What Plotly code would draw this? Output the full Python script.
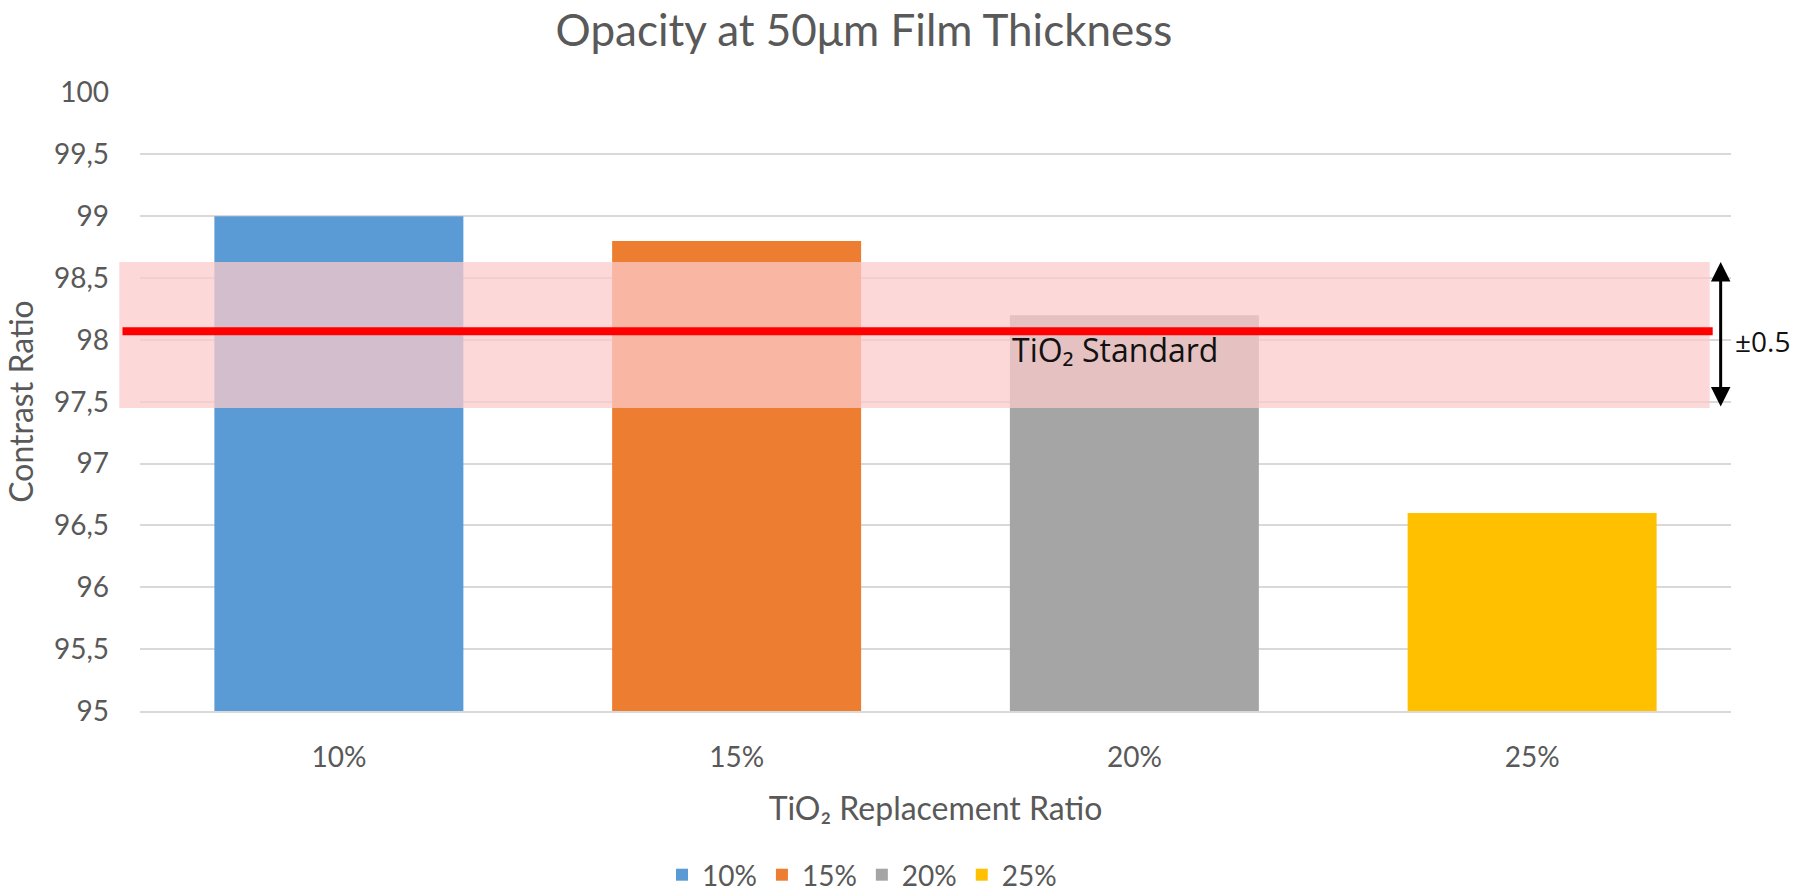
import plotly.graph_objects as go

# data
categories = ["10%", "15%", "20%", "25%"]
contrast_ratio = [99.0, 98.8, 98.2, 96.6]
bar_colors = ["#5B9BD5", "#ED7D31", "#A5A5A5", "#FFC000"]

standard_value = 98.07
band_low = 97.45
band_high = 98.63
band_label = "±0.5"

W, H = 1798, 894
GREY = "#595959"
FONT = "Lato"

fig = go.Figure()
for cat, val, col in zip(categories, contrast_ratio, bar_colors):
    fig.add_trace(go.Bar(
        x=[cat], y=[val], name=cat,
        marker={"color": col, "line": {"width": 0}},
    ))

# tolerance band and standard line, drawn over the bars
fig.add_shape(
    type="rect", xref="paper", yref="y",
    x0=-0.013, x1=0.9866, y0=band_low, y1=band_high,
    fillcolor="rgba(252,202,202,0.74)", line={"width": 0}, layer="above",
)
fig.add_shape(
    type="line", xref="paper", yref="y",
    x0=-0.011, x1=0.9885, y0=standard_value, y1=standard_value,
    line={"color": "#FF0000", "width": 8}, layer="above",
)
fig.add_annotation(
    xref="paper", yref="y", x=0.5468, y=standard_value - 0.15,
    text="TiO₂ Standard", showarrow=False, xanchor="left", yanchor="middle",
    font={"family": "Open Sans", "size": 32, "color": "#111111"},
)
fig.add_annotation(
    xref="paper", yref="y", x=0.9935, y=band_high,
    ax=0, ayref="y", ay=band_low, axref="pixel",
    showarrow=True, arrowhead=2, startarrowhead=2, arrowside="end+start",
    arrowsize=1.3, startarrowsize=1.3, arrowwidth=3, arrowcolor="#000000",
    text="",
)
fig.add_annotation(
    xref="paper", yref="y", x=1.0014, y=(band_low + band_high) / 2 - 0.05,
    text=band_label, showarrow=False, xanchor="left", yanchor="middle",
    font={"family": "Open Sans", "size": 28, "color": "#111111"},
)

fig.update_layout(
    width=W, height=H,
    paper_bgcolor="white", plot_bgcolor="white",
    margin={"l": 140, "r": 67, "t": 92, "b": 183, "autoexpand": False},
    barmode="overlay", bargap=0.374,
    separators=", ",
    font={"family": FONT, "color": GREY, "size": 28},
    title={
        "text": "Opacity at 50μm Film Thickness",
        "x": 864 / W, "xanchor": "center",
        "y": 1 - 31 / H, "yanchor": "middle", "yref": "container",
        "font": {"family": FONT, "size": 44, "color": GREY},
    },
    legend={
        "orientation": "h", "x": 862 / W, "xanchor": "center", "xref": "container",
        "y": 1 - 850 / H, "yanchor": "top", "yref": "container",
        "font": {"family": FONT, "size": 28, "color": GREY},
        "traceorder": "normal",
    },
    showlegend=True,
)
fig.update_xaxes(
    type="category", categoryorder="array", categoryarray=categories,
    showgrid=False, showline=True, linecolor="#D9D9D9", linewidth=2,
    ticks="", ticklabelstandoff=20,
    tickfont={"size": 28, "color": GREY},
    title={"text": "TiO₂ Replacement Ratio", "standoff": 26,
           "font": {"size": 32, "color": GREY}},
)
fig.update_yaxes(
    range=[95, 100.004], dtick=0.5, tick0=95,
    showgrid=True, gridcolor="#D9D9D9", gridwidth=2, zeroline=False,
    ticks="", ticklabelstandoff=30,
    tickfont={"size": 28, "color": GREY},
    title={"text": "Contrast Ratio", "standoff": 10,
           "font": {"size": 32, "color": GREY}},
)

# the page's default body margin would push the fixed-size figure off by 8px
fig.write_html(
    "out.html",
    config={"displayModeBar": False},
    post_script="document.body.style.margin='0';",
)
